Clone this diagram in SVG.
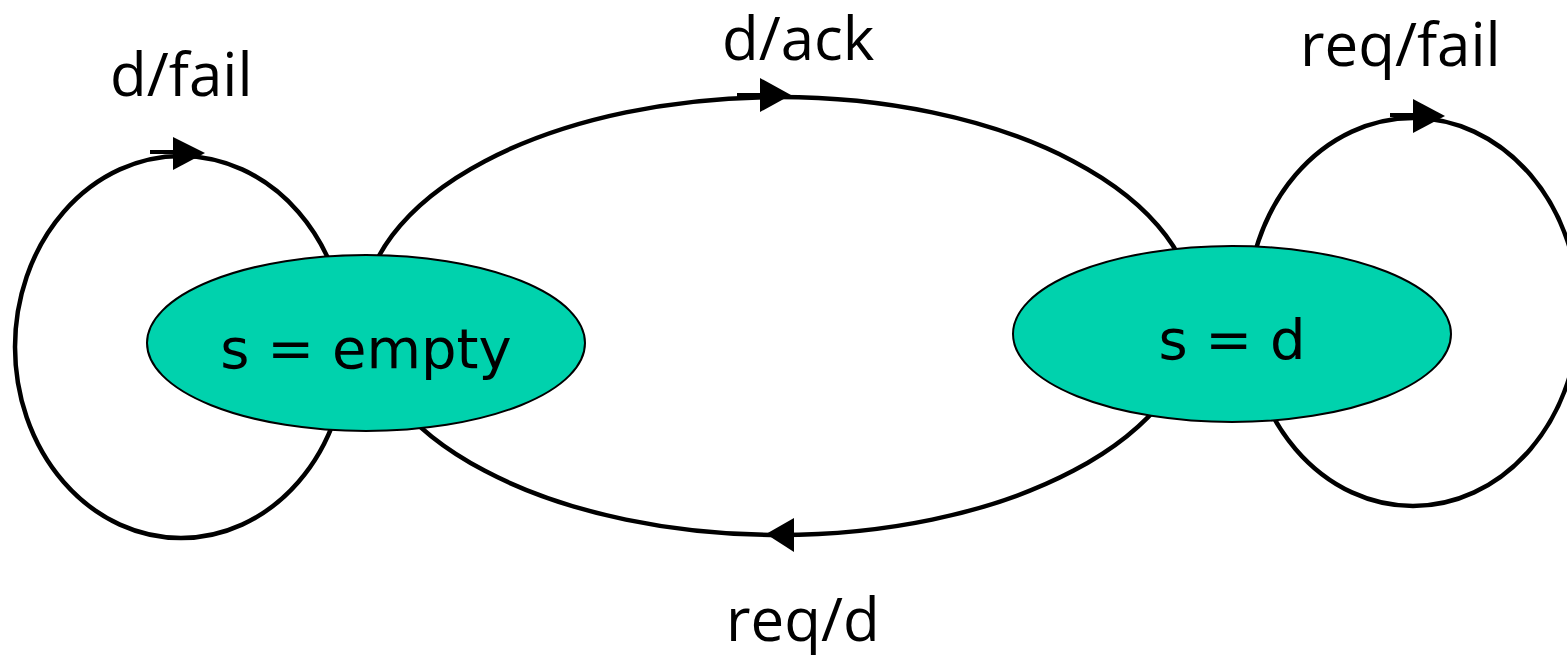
<svg xmlns="http://www.w3.org/2000/svg" width="1567" height="656" viewBox="0 0 1567 656">
<style>
.edge{fill:none;stroke:#000;stroke-width:4.5}
.stub{stroke:#000;stroke-width:4}
.head{fill:#000}
.node{fill:#00d2ad;stroke:#000;stroke-width:2}
.ntext{font-family:"DejaVu Sans",Verdana,sans-serif;font-size:56px;fill:#000;text-anchor:middle}
.label{font-family:"Open Sans","DejaVu Sans",sans-serif;font-size:60px;fill:#000}
</style>
<rect width="1567" height="656" fill="#fff"/>
<g id="connectors">
<ellipse class="edge" cx="181" cy="347" rx="166" ry="191"/>
<ellipse class="edge" cx="1413" cy="312" rx="166" ry="194"/>
<ellipse class="edge" cx="779" cy="316" rx="416" ry="219"/>
<line class="stub" x1="150" y1="152" x2="174" y2="152"/>
<polygon class="head" points="173,137 205,153 173,170"/>
<line class="stub" x1="737" y1="95" x2="761" y2="95"/>
<polygon class="head" points="760,78 791,95 760,112"/>
<line class="stub" x1="1390" y1="115" x2="1414" y2="115"/>
<polygon class="head" points="1413,99 1445,116 1413,133"/>
<polygon class="head" points="794,518 766,534 794,552"/>
<text class="label" x="110" y="96">d/fail</text>
<text class="label" x="722" y="60">d/ack</text>
<text class="label" x="1300" y="66">req/fail</text>
<text class="label" x="726" y="641">req/d</text>
</g>
<g id="node-empty">
<ellipse class="node" cx="366" cy="343" rx="219" ry="88"/>
<text class="ntext" x="366" y="368">s = empty</text>
</g>
<g id="node-d">
<ellipse class="node" cx="1232" cy="334" rx="219" ry="88"/>
<text class="ntext" x="1232" y="359">s = d</text>
</g>
</svg>
